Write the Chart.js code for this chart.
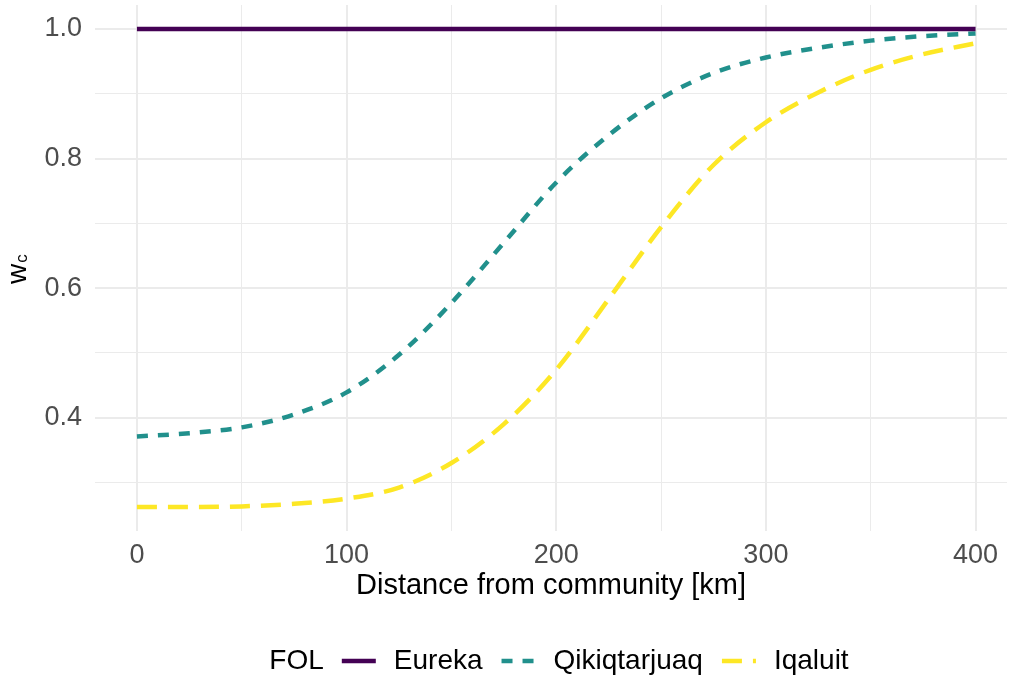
<!DOCTYPE html>
<html>
<head>
<meta charset="utf-8">
<script src="https://cdn.jsdelivr.net/npm/chart.js@4"></script>
<style>
  html, body { margin: 0; padding: 0; background: #fff; }
  #wrap { width: 1012px; height: 679px; }
</style>
</head>
<body>
<div id="wrap"><canvas id="weights"></canvas></div>
<script>
// distance from community [km]
var distance = [0, 25, 50, 75, 100, 125, 150, 175, 200, 225, 250, 275, 300, 325, 350, 375, 400];

// w_c per FOL
var eureka       = [1, 1, 1, 1, 1, 1, 1, 1, 1, 1, 1, 1, 1, 1, 1, 1, 1];
var qikiqtarjuaq = [0.371, 0.376, 0.385, 0.405, 0.439, 0.497, 0.577, 0.670, 0.763, 0.836, 0.893, 0.932, 0.956, 0.971, 0.982, 0.989, 0.993];
var iqaluit      = [0.262, 0.262, 0.263, 0.267, 0.275, 0.292, 0.330, 0.390, 0.474, 0.583, 0.694, 0.790, 0.856, 0.902, 0.937, 0.961, 0.978];

var folNames = ['Eureka', 'Qikiqtarjuaq', 'Iqaluit'];
var legendTitle = 'FOL';

var xTickValues = [0, 50, 100, 150, 200, 250, 300, 350, 400];
var xTickLabels = ['0', '', '100', '', '200', '', '300', '', '400'];
var yTickValues = [0.3, 0.4, 0.5, 0.6, 0.7, 0.8, 0.9, 1.0];
var yTickLabels = ['', '0.4', '', '0.6', '', '0.8', '', '1.0'];

var FONT = '"Liberation Sans", Arial, sans-serif';

function pts(ys) {
    return distance.map(function (d, i) { return { x: d, y: ys[i] }; });
}

// ggplot-ish legend laid out in one row with the title in front
var folLegend = {
    id: 'folLegend',
    afterDraw: function (chart) {
        var ctx = chart.ctx;
        var sets = chart.data.datasets;
        var y = 661, lineLen = 34, gap = 18, itemGap = 19;
        ctx.save();
        ctx.font = '28px ' + FONT;
        ctx.textBaseline = 'middle';
        var total = ctx.measureText(legendTitle).width + gap;
        sets.forEach(function (ds, i) {
            total += lineLen + gap + ctx.measureText(ds.label).width;
            if (i < sets.length - 1) total += itemGap;
        });
        var x = (chart.chartArea.left + chart.chartArea.right) / 2 - total / 2 + 8;
        ctx.fillStyle = '#000';
        ctx.fillText(legendTitle, x, y);
        x += ctx.measureText(legendTitle).width + gap;
        sets.forEach(function (ds) {
            ctx.beginPath();
            ctx.strokeStyle = ds.borderColor;
            ctx.lineWidth = ds.borderWidth;
            ctx.setLineDash(ds.borderDash || []);
            ctx.moveTo(x, y);
            ctx.lineTo(x + lineLen, y);
            ctx.stroke();
            ctx.setLineDash([]);
            x += lineLen + gap;
            ctx.fillStyle = '#000';
            ctx.fillText(ds.label, x, y);
            x += ctx.measureText(ds.label).width + itemGap;
        });
        ctx.restore();
    }
};

// rotated y title: w with a small c
var yTitle = {
    id: 'yTitle',
    afterDraw: function (chart) {
        var ctx = chart.ctx;
        ctx.save();
        ctx.translate(26, 284);
        ctx.rotate(-Math.PI / 2);
        ctx.fillStyle = '#000';
        ctx.textBaseline = 'alphabetic';
        ctx.font = '28px ' + FONT;
        ctx.fillText('w', 0, 0);
        var w = ctx.measureText('w').width;
        ctx.font = '17px ' + FONT;
        ctx.fillText('c', w + 1, 1);
        ctx.restore();
    }
};

var ctx = document.getElementById('weights').getContext('2d');
var chart = new Chart(ctx, {
    type: 'line',
    data: {
        datasets: [{
            label: folNames[0],
            data: pts(eureka),
            borderColor: '#440154',
            borderWidth: 4.5,
            pointRadius: 0,
            fill: false
        }, {
            label: folNames[1],
            data: pts(qikiqtarjuaq),
            borderColor: '#21908C',
            borderWidth: 4.5,
            borderDash: [11, 10],
            pointRadius: 0,
            fill: false,
            cubicInterpolationMode: 'monotone'
        }, {
            label: folNames[2],
            data: pts(iqaluit),
            borderColor: '#FDE725',
            borderWidth: 4.5,
            borderDash: [20, 11],
            pointRadius: 0,
            fill: false,
            cubicInterpolationMode: 'monotone'
        }]
    },
    options: {
        responsive: true,
        maintainAspectRatio: false,
        animation: false,
        layout: { padding: { top: 5, right: 5, left: 0, bottom: 76 } },
        plugins: {
            legend: { display: false },
            tooltip: { enabled: false }
        },
        scales: {
            x: {
                type: 'linear',
                min: -20,
                max: 415,
                afterBuildTicks: function (scale) {
                    scale.ticks = xTickValues.map(function (v) { return { value: v }; });
                },
                afterFit: function (scale) { scale.height = 72; },
                grid: {
                    drawTicks: false,
                    color: '#ebebeb',
                    lineWidth: function (c) { return (c.tick && xTickLabels[xTickValues.indexOf(c.tick.value)]) ? 2 : 1; }
                },
                border: { display: false },
                ticks: {
                    padding: 8,
                    color: '#4d4d4d',
                    font: { family: FONT, size: 27 },
                    maxRotation: 0,
                    autoSkip: false,
                    callback: function (v) { return xTickLabels[xTickValues.indexOf(v)]; }
                },
                title: {
                    display: true,
                    text: 'Distance from community [km]',
                    color: '#000',
                    font: { family: FONT, size: 29 },
                    padding: { top: 0, bottom: 0 }
                }
            },
            y: {
                type: 'linear',
                min: 0.225,
                max: 1.037,
                afterBuildTicks: function (scale) {
                    scale.ticks = yTickValues.map(function (v) { return { value: v }; });
                },
                afterFit: function (scale) {
                    scale.width = 95;
                    scale.paddingTop = 0;
                    scale.paddingBottom = 0;
                },
                grid: {
                    drawTicks: false,
                    color: '#ebebeb',
                    lineWidth: function (c) {
                        if (!c.tick) return 1;
                        var i = yTickValues.findIndex(function (v) { return Math.abs(v - c.tick.value) < 1e-6; });
                        return yTickLabels[i] ? 2 : 1;
                    }
                },
                border: { display: false },
                ticks: {
                    padding: 13,
                    color: '#4d4d4d',
                    font: { family: FONT, size: 27 },
                    autoSkip: false,
                    callback: function (v) {
                        var i = yTickValues.findIndex(function (t) { return Math.abs(t - v) < 1e-6; });
                        return yTickLabels[i];
                    }
                }
            }
        }
    },
    plugins: [folLegend, yTitle]
});
</script>
</body>
</html>
